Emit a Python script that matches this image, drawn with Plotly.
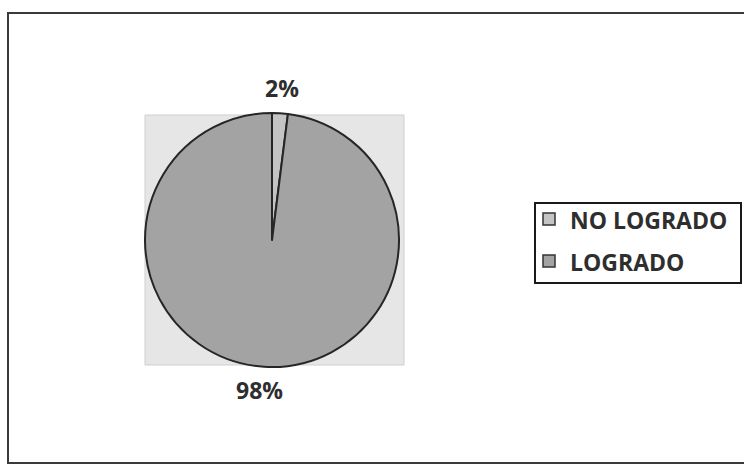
import plotly.graph_objects as go

labels = ["NO LOGRADO", "LOGRADO"]
values = [2, 98]
colors = ["#c4c4c4", "#a3a3a3"]

W, H = 744, 464

def px(x):
    return x / W

def py(y):
    return 1 - y / H

cx, cy, r = 272, 240, 127
total = sum(values)
pct = [f"{round(v / total * 100)}%" for v in values]

fig = go.Figure(
    go.Pie(
        labels=labels,
        values=values,
        sort=False,
        direction="clockwise",
        rotation=0,
        textinfo="none",
        hoverinfo="label+percent",
        showlegend=False,
        marker=dict(colors=colors, line=dict(color="#262626", width=2)),
        domain=dict(x=[px(cx - r), px(cx + r)], y=[py(cy + r), py(cy - r)]),
    )
)

font_family = "Open Sans, Lato, sans-serif"
text_color = "#2e2e2e"

shapes = [
    # plot area background
    dict(type="rect", xref="paper", yref="paper", layer="below",
         x0=px(145), x1=px(404), y0=py(365), y1=py(115),
         fillcolor="#e6e6e6", line=dict(color="#cfcfcf", width=1)),
    # outer chart border
    dict(type="rect", xref="paper", yref="paper", layer="above",
         x0=px(8), x1=px(748), y0=py(463), y1=py(13),
         line=dict(color="#3a3a3a", width=2)),
    # legend box
    dict(type="rect", xref="paper", yref="paper",
         x0=px(535), x1=px(741), y0=py(283), y1=py(203),
         fillcolor="white", line=dict(color="#1a1a1a", width=2)),
]

annotations = [
    dict(text=f"<b>{pct[0]}</b>", x=px(282), y=py(88), xref="paper", yref="paper",
         xanchor="center", yanchor="middle", showarrow=False,
         font=dict(family=font_family, size=23, color=text_color)),
    dict(text=f"<b>{pct[1]}</b>", x=px(259), y=py(390), xref="paper", yref="paper",
         xanchor="center", yanchor="middle", showarrow=False,
         font=dict(family=font_family, size=23, color=text_color)),
]

# legend entries: swatch + label per category
row_y = [219, 261]
for lab, col, yy in zip(labels, colors, row_y):
    shapes.append(dict(type="rect", xref="paper", yref="paper",
                       x0=px(543), x1=px(555), y0=py(yy + 6), y1=py(yy - 6),
                       fillcolor=col, line=dict(color="#333333", width=1.5)))
    annotations.append(dict(text=f"<b>{lab}</b>", x=px(568), y=py(yy + 1),
                            xref="paper", yref="paper", xanchor="left", yanchor="middle",
                            showarrow=False,
                            font=dict(family=font_family, size=23, color=text_color)))

fig.update_layout(
    width=W,
    height=H,
    margin=dict(l=0, r=0, t=0, b=0),
    paper_bgcolor="white",
    plot_bgcolor="white",
    shapes=shapes,
    annotations=annotations,
)

fig.write_html("out.html")
